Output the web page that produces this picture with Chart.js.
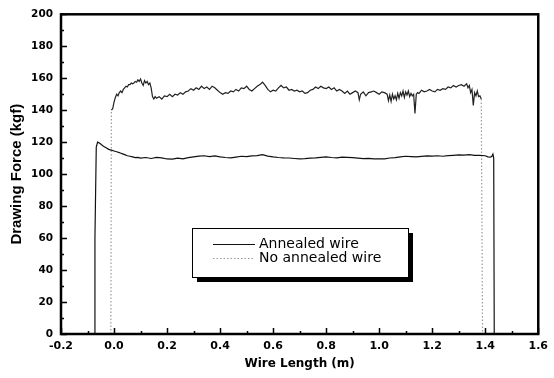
<!DOCTYPE html>
<html>
<head>
<meta charset="utf-8">
<script src="https://cdn.jsdelivr.net/npm/chart.js@4"></script>
<style>
  html, body { margin: 0; padding: 0; background: #fff; }
</style>
</head>
<body>
<canvas id="myChart" width="554" height="378"></canvas>
<script>
// Values: wire length (m) vs drawing force (kgf)
const annealedLength = [
  -0.075, -0.072, -0.067, -0.062, -0.055, -0.048, -0.04, -0.03, -0.02, -0.01,
  0.0, 0.01, 0.02, 0.03, 0.04, 0.05, 0.06, 0.07, 0.08, 0.09, 0.10,
  0.12, 0.14, 0.16, 0.18, 0.20, 0.22, 0.24, 0.26, 0.28, 0.30,
  0.32, 0.34, 0.36, 0.38, 0.40, 0.42, 0.44, 0.46, 0.48, 0.50,
  0.52, 0.54, 0.56, 0.58, 0.60, 0.62, 0.64, 0.66, 0.68, 0.70,
  0.72, 0.74, 0.76, 0.78, 0.80, 0.82, 0.84, 0.86, 0.88, 0.90,
  0.92, 0.94, 0.96, 0.98, 1.00, 1.02, 1.04, 1.06, 1.08, 1.10,
  1.12, 1.14, 1.16, 1.18, 1.20, 1.22, 1.24, 1.26, 1.28, 1.30,
  1.32, 1.34, 1.36, 1.38, 1.40, 1.41, 1.42, 1.425, 1.429, 1.432, 1.434
];
const annealedForce = [
  0, 60, 117, 120, 119.5, 118.5, 117.5, 116.5, 115.5, 115,
  114.5, 114, 113.5, 112.8, 112.2, 111.5, 111.2, 110.8, 110.3, 110.5, 110,
  110.4, 109.8, 110.5, 110.2, 109.5, 109.4, 110, 109.6, 110.3, 110.8,
  111.3, 111.5, 111, 111.4, 110.8, 110.4, 110.2, 110.7, 111.2, 111,
  111.4, 111.6, 112.2, 111.3, 110.8, 110.4, 110.2, 110.1, 109.8, 109.5,
  109.7, 110, 110.2, 110.5, 110.8, 110.4, 110.2, 110.6, 110.5, 110.3,
  110, 109.7, 109.9, 109.6, 109.5, 109.6, 110.1, 110.3, 110.8, 111.2,
  111, 110.8, 111.1, 111.4, 111.3, 111.5, 111.2, 111.6, 111.8, 112,
  111.9, 112.2, 111.8, 111.7, 111.5, 110.8, 110.6, 111.2, 112.5, 110, 0
];

const plainLength = [
  -0.012, -0.010, -0.005, 0.000, 0.005, 0.010, 0.015, 0.020, 0.025, 0.030,
  0.035, 0.040, 0.045, 0.050, 0.055, 0.060, 0.065, 0.070, 0.075, 0.080,
  0.085, 0.090, 0.095, 0.100, 0.105, 0.110, 0.115, 0.120, 0.125, 0.130,
  0.135, 0.140, 0.145, 0.150, 0.155, 0.160, 0.170, 0.180, 0.190, 0.200,
  0.210, 0.220, 0.230, 0.240, 0.250, 0.260, 0.270, 0.280, 0.290, 0.300,
  0.310, 0.320, 0.330, 0.340, 0.350, 0.360, 0.370, 0.380, 0.390, 0.400,
  0.410, 0.420, 0.430, 0.440, 0.450, 0.460, 0.470, 0.480, 0.490, 0.500,
  0.510, 0.520, 0.530, 0.540, 0.550, 0.560, 0.570, 0.580, 0.590, 0.600,
  0.610, 0.620, 0.630, 0.640, 0.650, 0.660, 0.670, 0.680, 0.690, 0.700,
  0.710, 0.720, 0.730, 0.740, 0.750, 0.760, 0.770, 0.780, 0.790, 0.800,
  0.810, 0.820, 0.830, 0.840, 0.850, 0.860, 0.870, 0.880, 0.890, 0.900,
  0.910, 0.920, 0.925, 0.930, 0.940, 0.950, 0.960, 0.970, 0.980, 0.990,
  1.000, 1.010, 1.020, 1.030, 1.035, 1.040, 1.045, 1.050, 1.055, 1.060,
  1.065, 1.070, 1.075, 1.080, 1.085, 1.090, 1.095, 1.100, 1.105, 1.110,
  1.115, 1.120, 1.125, 1.130, 1.135, 1.140, 1.145, 1.150, 1.160, 1.170,
  1.180, 1.190, 1.200, 1.210, 1.220, 1.230, 1.240, 1.250, 1.260, 1.270,
  1.280, 1.290, 1.300, 1.310, 1.320, 1.330, 1.335, 1.340, 1.345, 1.350,
  1.355, 1.360, 1.365, 1.370, 1.375, 1.380, 1.385, 1.390
];
const plainForce = [
  0, 140, 141, 145, 148, 150, 149, 151, 152, 151,
  153, 154, 155, 154.5, 156, 156, 157, 156.5, 157, 158,
  157.5, 159, 158, 159.5, 157, 155.5, 158.5, 157, 158, 156,
  157, 154, 148.5, 147, 148.5, 147.5, 148.5, 147, 149, 148.5,
  150, 148.5, 150, 149.5, 151, 150, 151.5, 152, 153.5, 152.5,
  154, 153, 155, 153.5, 154.5, 153, 155, 154, 152.5, 151,
  150, 151, 150.5, 152, 151.5, 153, 152, 154, 153.5, 155,
  153, 152, 153.5, 155, 156, 157.5, 155.5, 153, 151.5, 152.5,
  152, 154, 155.5, 154, 154.5, 152.5, 153, 152, 152.5, 151.5,
  152, 150.5, 151, 152.5, 153, 154.5, 153.5, 155, 154, 153.5,
  154.5, 153, 154, 152, 153, 152, 150.5, 152, 150, 151,
  152, 151, 146.5, 150, 151.5, 149, 151, 151.5, 152, 151,
  150, 151.5, 151, 150, 146, 149.5, 145.5, 150, 147, 149,
  146.5, 150.5, 147.5, 151, 149, 152, 148, 151.5, 149.5, 152,
  148.5, 150.5, 149, 150, 138, 150, 151, 150.5, 152.5, 151.5,
  152, 153, 152, 151.5, 153, 152.5, 153.5, 153, 154.5, 154,
  155.5, 154.5, 155.5, 156, 155, 156.5, 154, 155.5, 151, 153,
  143, 151, 149, 152, 148.5, 149, 147, 0
];

const xTickValues = [-0.2, 0.0, 0.2, 0.4, 0.6, 0.8, 1.0, 1.2, 1.4, 1.6];
const yTickValues = [0, 20, 40, 60, 80, 100, 120, 140, 160, 180, 200];

const toPoints = (xs, ys) => xs.map((x, i) => ({ x: x, y: ys[i] }));

// steep parts of the second curve are drawn as a light dotted line
const isSteep = (ctx) => Math.abs(ctx.p1.parsed.y - ctx.p0.parsed.y) > 30;

// frame around plot area and inward ticks (major + minor)
const frameTicks = {
  id: "frameTicks",
  afterDraw(chart) {
    const c = chart.ctx;
    const a = chart.chartArea;
    const xs = chart.scales.x;
    const ys = chart.scales.y;
    c.save();
    c.strokeStyle = "#000";
    c.lineWidth = 2.5;
    c.strokeRect(a.left, a.top, a.right - a.left, a.bottom - a.top);
    c.beginPath();
    for (let v = -0.2; v <= 1.6001; v += 0.1) {
      const px = Math.round(xs.getPixelForValue(v)) + 0.5;
      const major = Math.abs(Math.round(v * 10) % 2) === 0;
      c.moveTo(px, a.bottom);
      c.lineTo(px, a.bottom - (major ? 6 : 3));
    }
    for (let v = 0; v <= 200; v += 10) {
      const py = Math.round(ys.getPixelForValue(v)) + 0.5;
      const major = v % 20 === 0;
      c.moveTo(a.left, py);
      c.lineTo(a.left + (major ? 6 : 3), py);
    }
    c.lineWidth = 1.5;
    c.stroke();
    c.restore();
  },
};

// boxed legend with a drop shadow, inside the plot
const boxLegend = {
  id: "boxLegend",
  afterDraw(chart) {
    const c = chart.ctx;
    const x = 192, y = 228, w = 216, h = 49;
    c.save();
    c.fillStyle = "#000";
    c.fillRect(x + 5, y + 5, w, h);
    c.fillStyle = "#fff";
    c.fillRect(x, y, w, h);
    c.strokeStyle = "#000";
    c.lineWidth = 1;
    c.strokeRect(x + 0.5, y + 0.5, w, h);

    c.font = "14px 'DejaVu Sans'";
    c.textBaseline = "middle";
    c.textAlign = "left";
    chart.data.datasets.forEach((ds, i) => {
      const ly = y + 16 + i * 14 + 0.5;
      c.beginPath();
      c.strokeStyle = ds.borderColor;
      c.setLineDash(ds.borderDash || []);
      c.moveTo(213, ly);
      c.lineTo(255, ly);
      c.stroke();
      c.setLineDash([]);
      c.fillStyle = "#000";
      c.fillText(ds.label, 259, ly);
    });
    c.restore();
  },
};

const config = {
  type: "line",
  data: {
    datasets: [
      {
        label: "Annealed wire",
        data: toPoints(annealedLength, annealedForce),
        borderColor: "#111",
        borderWidth: 1.2,
        pointRadius: 0,
        tension: 0,
      },
      {
        label: "No annealed wire",
        data: toPoints(plainLength, plainForce),
        borderColor: "#9a9a9a",
        borderWidth: 1.2,
        borderDash: [1.5, 2],
        pointRadius: 0,
        tension: 0,
        segment: {
          borderColor: (ctx) => (isSteep(ctx) ? undefined : "#222"),
          borderDash: (ctx) => (isSteep(ctx) ? undefined : []),
        },
      },
    ],
  },
  options: {
    responsive: false,
    animation: false,
    devicePixelRatio: 1,
    layout: { padding: { top: 13, right: 10, left: 0, bottom: 0 } },
    plugins: {
      legend: { display: false },
      tooltip: { enabled: false },
    },
    scales: {
      x: {
        type: "linear",
        min: -0.2,
        max: 1.6,
        afterBuildTicks: (s) => { s.ticks = xTickValues.map((v) => ({ value: v })); },
        afterFit: (s) => { s.height = 44; },
        grid: { display: false, drawTicks: false },
        border: { display: false },
        ticks: {
          color: "#000",
          padding: 6,
          font: { family: "'DejaVu Sans'", size: 11, weight: "bold" },
          callback: (v) => Number(v).toFixed(1),
        },
        title: {
          display: true,
          text: "Wire Length (m)",
          color: "#000",
          font: { family: "'DejaVu Sans'", size: 12, weight: "bold" },
          padding: { top: 0, bottom: 7 },
        },
      },
      y: {
        min: 0,
        max: 200,
        afterBuildTicks: (s) => { s.ticks = yTickValues.map((v) => ({ value: v })); },
        afterFit: (s) => { s.width = 61; },
        grid: { display: false, drawTicks: false },
        border: { display: false },
        ticks: {
          color: "#000",
          padding: 8,
          font: { family: "'DejaVu Sans'", size: 10.5, weight: "bold" },
        },
        title: {
          display: true,
          text: "Drawing Force (kgf)",
          color: "#000",
          font: { family: "'Liberation Sans'", size: 15, weight: "bold" },
          padding: { top: 8, bottom: 0 },
        },
      },
    },
  },
  plugins: [frameTicks, boxLegend],
};

const ctx = document.getElementById("myChart").getContext("2d");
const myChart = new Chart(ctx, config);
</script>
</body>
</html>
